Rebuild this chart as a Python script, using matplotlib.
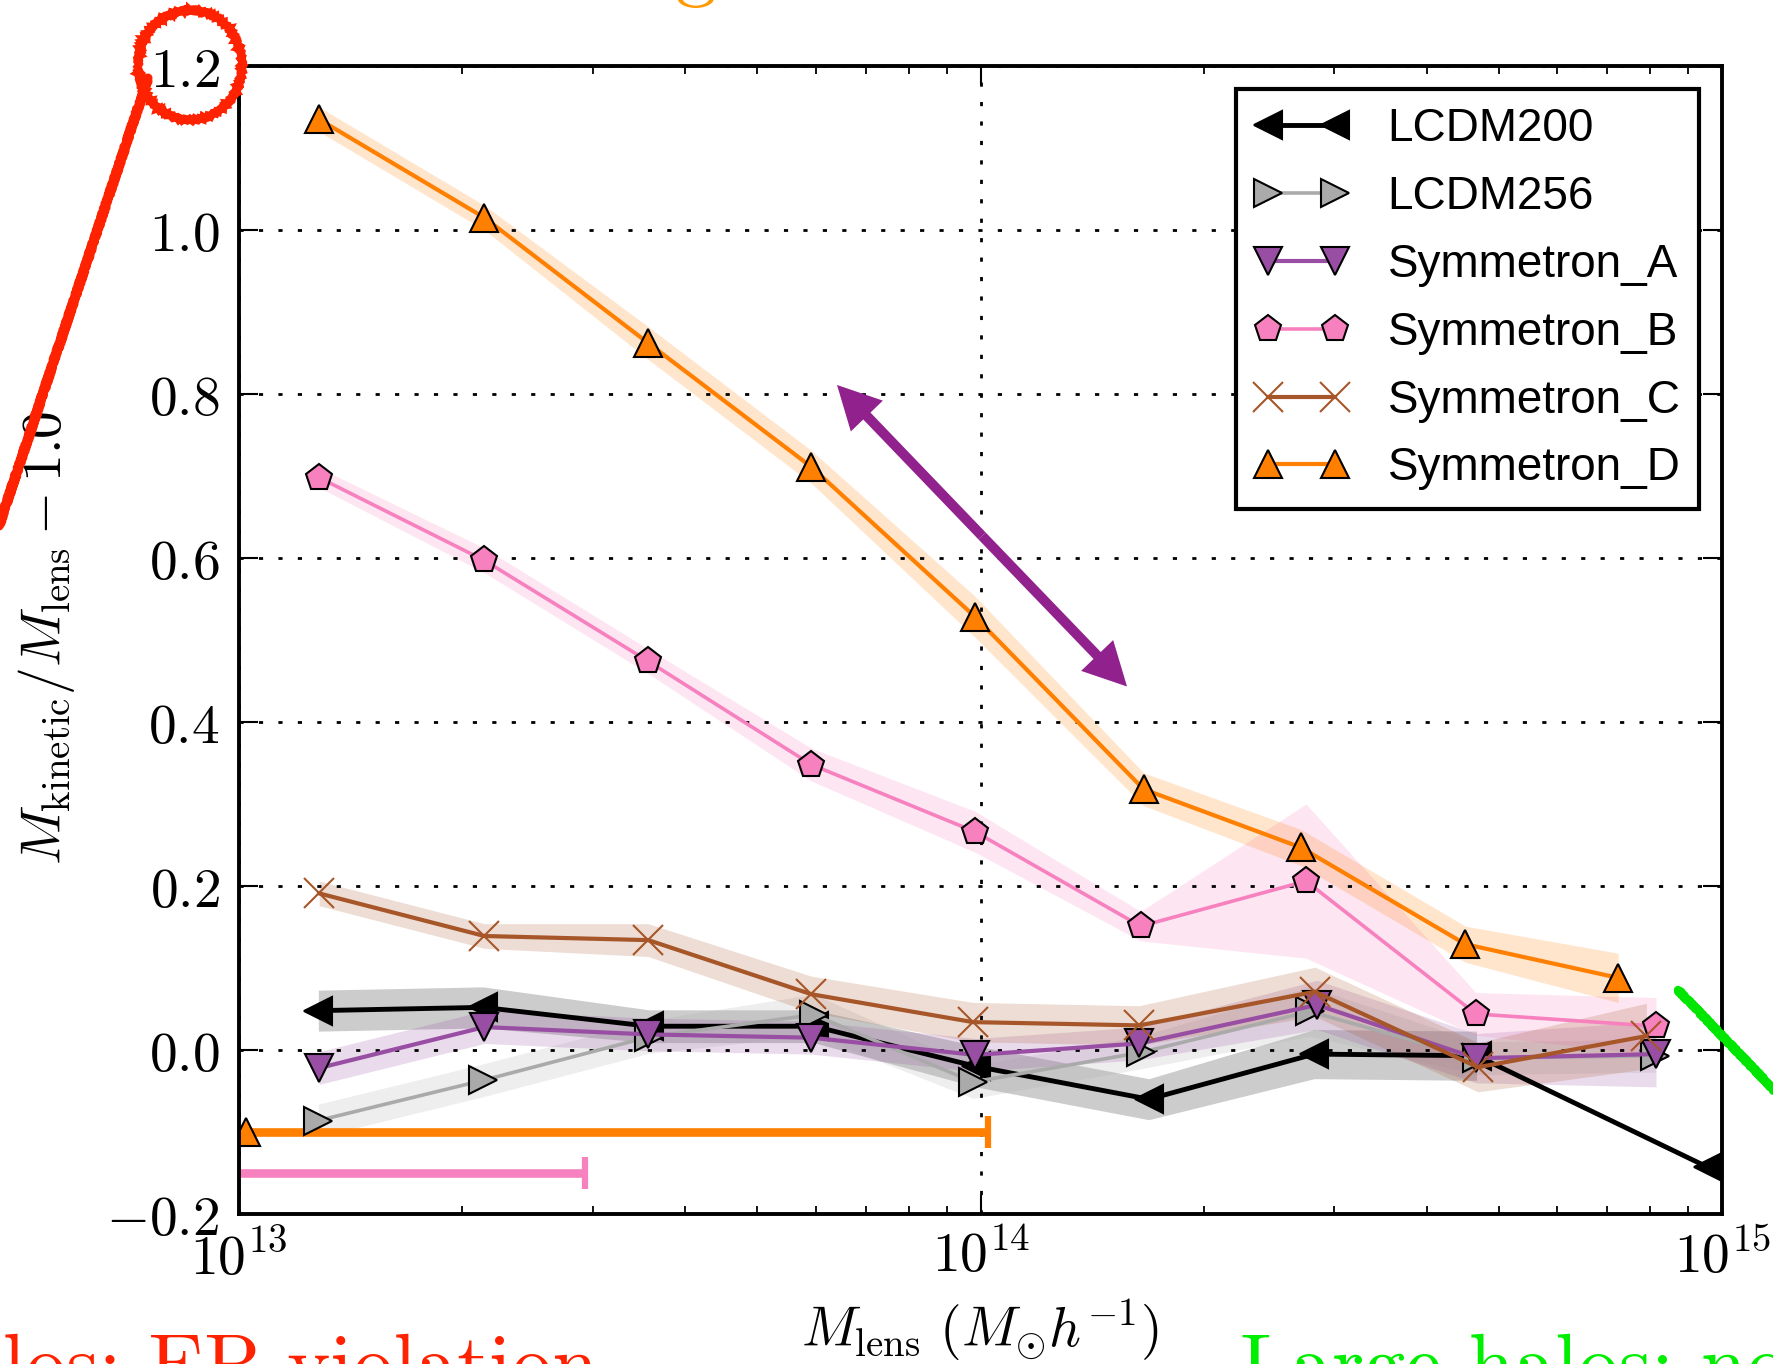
import numpy as np
import matplotlib
matplotlib.use("Agg")
import matplotlib.pyplot as plt
from matplotlib import ticker
from matplotlib.patches import Ellipse, FancyArrowPatch

# ---- data: log10 lens mass [M_sun/h] of each bin and kinetic/lens mass ratio - 1 ----
labels = ["LCDM200", "LCDM256", "Symmetron_A", "Symmetron_B", "Symmetron_C", "Symmetron_D"]

logm_lcdm200 = [13.107, 13.329, 13.553, 13.775, 13.994, 14.227, 14.450, 14.669, 14.981]
ratio_lcdm200 = [0.048, 0.052, 0.029, 0.029, -0.020, -0.060, -0.005, -0.007, -0.143]
err_lcdm200 = [0.025, 0.025, 0.020, 0.020, 0.025, 0.025, 0.030, 0.030, np.nan]

logm_lcdm256 = [13.107, 13.329, 13.553, 13.775, 13.990, 14.216, 14.444, 14.669, 14.910]
ratio_lcdm256 = [-0.086, -0.037, 0.016, 0.043, -0.039, -0.003, 0.047, -0.010, -0.007]
err_lcdm256 = [0.020, 0.020, 0.020, 0.025, 0.020, 0.020, 0.030, 0.020, 0.020]

logm_sym_a = [13.108, 13.331, 13.552, 13.772, 13.993, 14.214, 14.454, 14.668, 14.911]
ratio_sym_a = [-0.022, 0.028, 0.019, 0.015, -0.006, 0.008, 0.055, -0.010, -0.005]
err_sym_a = [0.020, 0.020, 0.020, 0.020, 0.020, 0.020, 0.030, 0.030, 0.040]

logm_sym_b = [13.108, 13.331, 13.552, 13.772, 13.993, 14.216, 14.439, 14.668, 14.911]
ratio_sym_b = [0.698, 0.597, 0.474, 0.348, 0.266, 0.151, 0.206, 0.044, 0.029]
err_sym_b = [0.012, 0.015, 0.015, 0.020, 0.025, 0.018, 0.094, 0.026, 0.035]

logm_sym_c = [13.108, 13.331, 13.552, 13.772, 13.990, 14.214, 14.451, 14.671, 14.898]
ratio_sym_c = [0.191, 0.139, 0.134, 0.068, 0.034, 0.030, 0.071, -0.021, 0.017]
err_sym_c = [0.015, 0.015, 0.020, 0.022, 0.024, 0.024, 0.030, 0.030, 0.040]

logm_sym_d = [13.108, 13.331, 13.552, 13.772, 13.993, 14.220, 14.432, 14.654, 14.860]
ratio_sym_d = [1.135, 1.015, 0.862, 0.711, 0.528, 0.318, 0.247, 0.129, 0.088]
err_sym_d = [0.015, 0.015, 0.020, 0.020, 0.025, 0.020, 0.022, 0.022, 0.030]

# unscreened mass ranges (log10 M): marker position, lower and upper end, level
range_d = dict(center=13.009, lo=12.5, hi=14.010, level=-0.10)
range_b = dict(center=12.90, lo=12.5, hi=13.467, level=-0.15)

yticks = [-0.2, 0.0, 0.2, 0.4, 0.6, 0.8, 1.0, 1.2]
xticks_log = [13, 14, 15]

# ---- style ----
plt.rcParams["mathtext.fontset"] = "cm"
plt.rcParams["font.family"] = ["DejaVu Sans"]

C_BLACK = "#000000"
C_GRAY = "#aaaaaa"
C_PURPLE = "#984ea3"
C_PINK = "#f781bf"
C_BROWN = "#a65628"
C_ORANGE = "#ff7f00"

fig = plt.figure(figsize=(17.74, 13.64), dpi=100)
W, H = 1774.0, 1364.0
ax = fig.add_axes([239 / W, 1 - 1214 / H, (1722 - 239) / W, (1214 - 66) / H])
ax.set_xscale("log")

# range bars: thick horizontal bar, end cap and a marker at the centre
for rng, col, mk in [(range_d, C_ORANGE, "^"), (range_b, C_PINK, "p")]:
    y = rng["level"]
    ax.plot([10 ** rng["lo"], 10 ** rng["hi"]], [y, y], color=col, lw=6.2,
            solid_capstyle="butt")
    ax.plot([10 ** rng["hi"]], [y], ls="none", marker="|", ms=23, mew=4.5, color=col)
    ax.plot([10 ** rng["center"]], [y], ls="none", marker=mk, ms=20, mfc=col,
            mec="k", mew=1.5)

series = [
    (logm_lcdm200, ratio_lcdm200, err_lcdm200, C_BLACK, "<", C_BLACK, "k", 3.5, 20),
    (logm_lcdm256, ratio_lcdm256, err_lcdm256, C_GRAY, ">", C_GRAY, "k", 2.6, 20),
    (logm_sym_a, ratio_sym_a, err_sym_a, C_PURPLE, "v", C_PURPLE, "k", 3.0, 20),
    (logm_sym_b, ratio_sym_b, err_sym_b, C_PINK, "p", C_PINK, "k", 2.6, 20),
    (logm_sym_c, ratio_sym_c, err_sym_c, C_BROWN, "x", C_BROWN, C_BROWN, 3.0, 21),
    (logm_sym_d, ratio_sym_d, err_sym_d, C_ORANGE, "^", C_ORANGE, "k", 3.0, 20),
]

for label, (lm, r, e, col, mk, mfc, mec, lw, ms) in zip(labels, series):
    m = 10 ** np.asarray(lm)
    r = np.asarray(r)
    e = np.asarray(e)
    ax.fill_between(m, r - e, r + e, color=col, alpha=0.2, lw=0)
    ax.plot(m, r, color=col, lw=lw, marker=mk, ms=ms, mfc=mfc, mec=mec,
            mew=1.5, label=label)

# double-headed arrow showing the trend
mid_log = 14.002
arrow_style = "simple,head_length=31,head_width=32,tail_width=7.2"
for tip in [(10 ** 13.8065, 0.811), (10 ** 14.1976, 0.4433)]:
    ax.add_patch(FancyArrowPatch((10 ** mid_log, 0.627), tip, arrowstyle=arrow_style,
                                 mutation_scale=1, lw=0, color="#91218c",
                                 shrinkA=0, shrinkB=0, zorder=4))

ax.set_xlim(1e13, 1e15)
ax.set_ylim(-0.2, 1.2)

ax.set_yticks(yticks)
ax.set_yticklabels([f"${t:.1f}$" for t in yticks])
ax.set_xticks([10.0 ** k for k in xticks_log])
ax.set_xticklabels([rf"$10^{{{k}}}$" for k in xticks_log])
ax.xaxis.set_minor_locator(ticker.LogLocator(base=10, subs=np.arange(2, 10)))
ax.xaxis.set_minor_formatter(ticker.NullFormatter())
ax.yaxis.set_minor_locator(ticker.NullLocator())

ax.tick_params(which="both", direction="in", top=True, right=True)
ax.tick_params(which="major", length=14, width=1.5, labelsize=40)
ax.tick_params(which="minor", length=6, width=1.3)
ax.tick_params(axis="x", which="major", pad=12)
ax.tick_params(axis="y", which="major", pad=14)
for s in ax.spines.values():
    s.set_linewidth(2.8)

ax.grid(True, which="major", color="k", ls=(0, (1.5, 5.5)), lw=2)

leg = ax.legend(loc="upper right", numpoints=2, prop={"family": "Liberation Sans", "size": 33},
                fancybox=False, edgecolor="k", framealpha=1, handlelength=2.07,
                handletextpad=0.85, labelspacing=0.52, borderpad=0.4, borderaxespad=0.5)
leg.get_frame().set_linewidth(3)

fig.text(980 / W, (H - 1347) / H, r"$M_{\mathrm{lens}}\ (M_{\odot} h^{-1})$",
         ha="center", va="baseline", fontsize=40)
fig.text(47 / W, 1 - 638 / H, r"$M_{\mathrm{kinetic}}/M_{\mathrm{lens}}-1.0$",
         rotation=90, ha="center", va="center", fontsize=40)

# slide annotations around the plot
fig.text(598 / W, (H - 1391) / H, "Small halos: EP violation", ha="right", va="baseline",
         fontfamily="cmr10", fontsize=59, color="#ff2200")
fig.text(1240 / W, (H - 1391) / H, "Large halos: no EP violation", ha="left", va="baseline",
         fontfamily="cmr10", fontsize=59, color="#00ee00")
fig.text(716 / W, 1 + 9 / H, "Intermediate halos: strong", ha="right", va="baseline",
         fontfamily="cmr10", fontsize=59, color="#ff9900")

ov = fig.add_axes([0, 0, 1, 1], zorder=5)
ov.set_xlim(0, W)
ov.set_ylim(H, 0)
ov.axis("off")
ov.patch.set_visible(False)

ring = Ellipse((190, 65), 104, 110, fill=False, ec="#ff2200", lw=5.5)
ring.set_sketch_params(scale=1.2, length=4, randomness=2)
ov.add_patch(ring)
(red_line,) = ov.plot([148, -20], [78, 583], color="#ff2200", lw=6.5, solid_capstyle="round")
red_line.set_sketch_params(scale=1.2, length=4, randomness=2)
(green_line,) = ov.plot([1678, 1800], [990, 1117], color="#00e600", lw=6, solid_capstyle="round")
green_line.set_sketch_params(scale=1.2, length=4, randomness=2)

fig.savefig("out.png", dpi=100)
